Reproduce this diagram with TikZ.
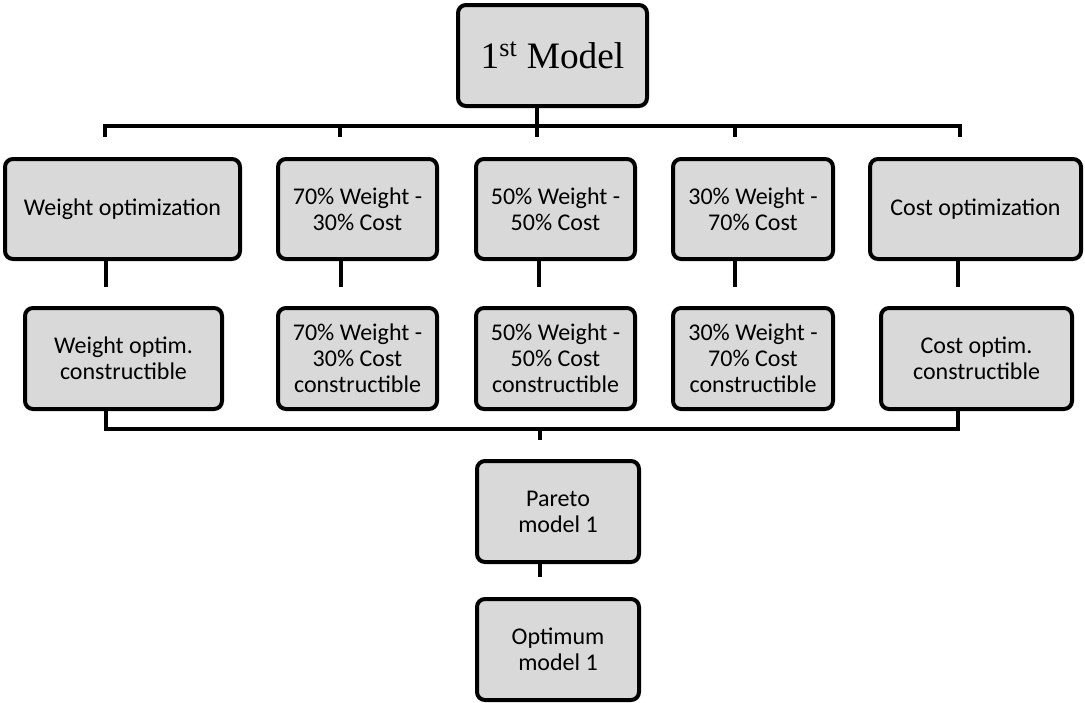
\documentclass[tikz,border=0pt]{standalone}
\usepackage{fontspec}
\setmainfont{Carlito}
\newfontfamily\serifmodel{Liberation Serif}
\definecolor{boxfill}{HTML}{D9D9D9}
\begin{document}
\begin{tikzpicture}[x=0.75pt,y=-0.75pt,
  box/.style={draw=black, fill=boxfill, line width=3pt, rounded corners=6pt,
    inner sep=0pt, outer sep=0pt, align=center,
    font=\fontsize{18}{19.5}\selectfont},
  sz/.style 2 args={minimum width={#1*0.75pt}, minimum height={#2*0.75pt}},
  conn/.style={line width=3pt, line join=miter},
  bconn/.style={line width=2.4pt, line join=miter}]
\useasboundingbox (0,0) rectangle (1085,703);

% nodes
\node[box, sz={189}{101}, font=\serifmodel\fontsize{28}{30}\selectfont] (top) at (552.5,55.5) {1\textsuperscript{st} Model};

\node[box, sz={235}{100}] (w1) at (122.5,209) {Weight optimization};
\node[box, sz={159}{100}] (a1) at (357.5,209) {70\% Weight -\\30\% Cost};
\node[box, sz={159}{100}] (b1) at (555.5,209) {50\% Weight -\\50\% Cost};
\node[box, sz={160}{100}] (c1) at (753,209) {30\% Weight -\\70\% Cost};
\node[box, sz={211}{100}] (k1) at (975.5,209) {Cost optimization};

\node[box, sz={197}{101}] (w2) at (123.5,358.5) {Weight optim.\\constructible};
\node[box, sz={159}{101}] (a2) at (357.5,358.5) {70\% Weight -\\30\% Cost\\constructible};
\node[box, sz={159}{101}] (b2) at (555.5,358.5) {50\% Weight -\\50\% Cost\\constructible};
\node[box, sz={160}{101}] (c2) at (753,358.5) {30\% Weight -\\70\% Cost\\constructible};
\node[box, sz={191}{101}] (k2) at (976.5,358.5) {Cost optim.\\constructible};

\node[box, sz={162}{101}] (par) at (558,511.5) {Pareto\\model 1};
\node[box, sz={162}{101}] (opt) at (558,649.5) {Optimum\\model 1};

% top connectors
\coordinate (tb) at (537,137);
\coordinate (barL) at (105,126);
\coordinate (barR) at (960,126);
\coordinate (dL) at (105,137);
\coordinate (dA) at (340,137);
\coordinate (dC) at (735,137);
\coordinate (dR) at (960,137);
\draw[conn] (top.south -| tb) -- (tb);
\draw[conn] (dL) -- (barL) -- (barR) -- (dR);
\draw[conn] (dA |- barL) -- (dA);
\draw[conn] (dC |- barL) -- (dC);

% row 1 stubs
\coordinate (sw) at (106,287);
\coordinate (sa) at (341,287);
\coordinate (sb) at (539,287);
\coordinate (sc) at (735,287);
\coordinate (sk) at (958,287);
\draw[conn] (w1.south -| sw) -- (sw);
\draw[conn] (a1.south -| sa) -- (sa);
\draw[conn] (b1.south -| sb) -- (sb);
\draw[conn] (c1.south -| sc) -- (sc);
\draw[conn] (k1.south -| sk) -- (sk);

% bottom bar
\coordinate (bw) at (106,429);
\coordinate (bk) at (958,429);
\coordinate (bm) at (540,440);
\draw[bconn] (w2.south -| bw) -- (bw) -- (bk) -- (k2.south -| bk);
\draw[conn] (bm |- bw) -- (bm);

% pareto stub
\coordinate (pm) at (540,577);
\draw[conn] (par.south -| pm) -- (pm);
\end{tikzpicture}
\end{document}
